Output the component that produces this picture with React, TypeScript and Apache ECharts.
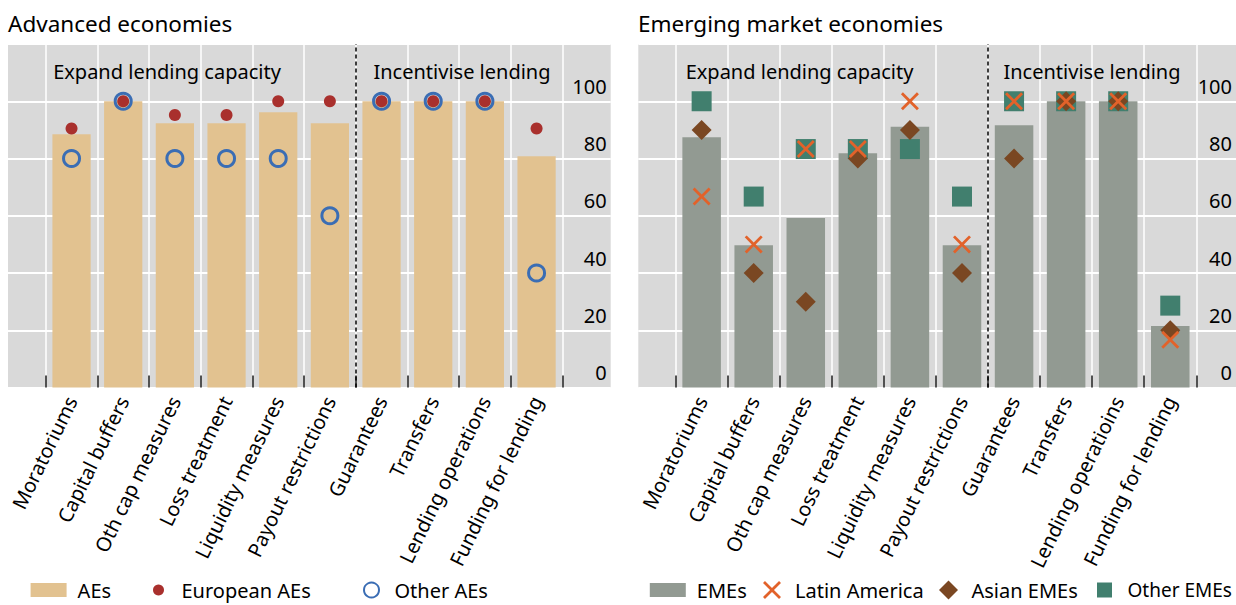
import React, { useEffect, useRef } from 'react';
import * as echarts from 'echarts';

const FONT = '"Noto Sans", "Open Sans", sans-serif';

const categoriesAE = ['Moratoriums', 'Capital buffers', 'Oth cap measures', 'Loss treatment', 'Liquidity measures', 'Payout restrictions', 'Guarantees', 'Transfers', 'Lending operations', 'Funding for lending'];
const categoriesEME = ['Moratoriums', 'Capital buffers', 'Oth cap measures', 'Loss treatment', 'Liquidity measures', 'Payout restrictions', 'Guarantees', 'Transfers', 'Lending operatioins', 'Funding for lending'];

const aes = [88.5, 100, 92.3, 92.3, 96.2, 92.3, 100, 100, 100, 80.8];
const europeanAEs = [90.5, 100, 95.2, 95.2, 100, 100, 100, 100, 100, 90.5];
const otherAEs = [80, 100, 80, 80, 80, 60, 100, 100, 100, 40];

const emes = [87.4, 49.7, 59.2, 81.8, 91.1, 49.7, 91.6, 100, 100, 21.5];
const latinAmerica = [66.7, 50, 83.3, 83.3, 100, 50, 100, 100, 100, 16.7];
const asianEMEs = [90, 40, 30, 80, 90, 40, 80, 100, 100, 20];
const otherEMEs = [100, 66.7, 83.3, 83.3, 83.3, 66.7, 100, 100, 100, 28.6];

const yMin = 0;
const yMax = 120;
const yStep = 20;
const dividerAt = 6; // boundary between "Payout restrictions" and "Guarantees"

const sectionLabels = ['Expand lending capacity', 'Incentivise lending'];
const panelTitles = ['Advanced economies', 'Emerging market economies'];

const X_PATH = 'path://M0,1.1L1.1,0L5,3.9L8.9,0L10,1.1L6.1,5L10,8.9L8.9,10L5,6.1L1.1,10L0,8.9L3.9,5Z';
const DIAMOND_PATH = 'path://M5,0L10,5L5,10L0,5Z';
const SQUARE_PATH = 'path://M0,0L10,0L10,10L0,10Z';
// legend swatch: 36x14 rectangle plus an invisible point that widens the icon box
const SWATCH_PATH = 'path://M0,0L36,0L36,14L0,14Z M42,7L42,7';

const TOP = 44;
const HEIGHT = 343.5;

function buildOption() {
  const panels = [
    { bgLeft: 8, bgWidth: 602.7, dataLeft: 45.7, dataWidth: 516.7, cats: categoriesAE },
    { bgLeft: 638.3, bgWidth: 601.7, dataLeft: 675.6, dataWidth: 520.7, cats: categoriesEME },
  ];
  const grid: any[] = [];
  const xAxis: any[] = [];
  const yAxis: any[] = [];
  panels.forEach((p) => {
    grid.push({ left: p.bgLeft, top: TOP, width: p.bgWidth, height: HEIGHT, show: true, backgroundColor: '#D9D9D9', borderWidth: 0 });
    grid.push({ left: p.dataLeft, top: TOP, width: p.dataWidth, height: HEIGHT, show: false });
  });
  panels.forEach((p, i) => {
    const bg = i * 2;
    const dg = i * 2 + 1;
    xAxis.push({ gridIndex: bg, type: 'value', min: 0, max: 1, show: false });
    xAxis.push({
      gridIndex: dg, type: 'category', data: p.cats, boundaryGap: true,
      axisLine: { show: false },
      axisTick: { show: true, inside: true, length: 12, interval: 0, lineStyle: { color: '#1a1a1a', width: 1.5 } },
      splitLine: { show: true, interval: 0, lineStyle: { color: '#ffffff', width: 1.5 } },
      axisLabel: { interval: 0, rotate: 64, margin: 10, fontSize: 20, color: '#000', fontFamily: FONT },
    });
    xAxis.push({ gridIndex: dg, type: 'value', min: 0, max: p.cats.length, show: false });
    yAxis.push({
      gridIndex: bg, type: 'value', min: yMin, max: yMax, interval: yStep, position: 'right',
      axisLine: { show: false }, axisTick: { show: false },
      splitLine: { show: true, lineStyle: { color: '#ffffff', width: 2 } },
      axisLabel: {
        inside: true, margin: 4, verticalAlign: 'bottom', lineHeight: 30, fontSize: 20, color: '#000', fontFamily: FONT,
        formatter: (v: number) => (v >= yMax ? '' : String(v)),
      },
    });
    yAxis.push({ gridIndex: dg, type: 'value', min: yMin, max: yMax, interval: yStep, show: false });
  });

  const divider = (xi: number, yi: number) => ({
    type: 'line', xAxisIndex: xi, yAxisIndex: yi, data: [], silent: true,
    markLine: {
      silent: true, symbol: ['none', 'none'], label: { show: false },
      lineStyle: { type: [4, 3], color: '#000', width: 1.5 },
      data: [{ xAxis: dividerAt }],
    },
  });

  const series: any[] = [
    { name: 'AEs', type: 'bar', xAxisIndex: 1, yAxisIndex: 1, data: aes, barCategoryGap: '26%', itemStyle: { color: '#E2C290' } },
    { name: 'European AEs', type: 'scatter', xAxisIndex: 1, yAxisIndex: 1, data: europeanAEs, symbol: 'circle', symbolSize: 12, itemStyle: { color: '#A9302D', opacity: 1 } },
    { name: 'Other AEs', type: 'scatter', xAxisIndex: 1, yAxisIndex: 1, data: otherAEs, symbol: 'circle', symbolSize: 16, itemStyle: { color: 'rgba(0,0,0,0)', borderColor: '#3A6DB4', borderWidth: 3, opacity: 1 } },
    divider(2, 1),
    { name: 'EMEs', type: 'bar', xAxisIndex: 4, yAxisIndex: 3, data: emes, barCategoryGap: '26%', itemStyle: { color: '#929A92' } },
    { name: 'Other EMEs', type: 'scatter', xAxisIndex: 4, yAxisIndex: 3, data: otherEMEs, symbol: 'rect', symbolSize: 20, itemStyle: { color: '#417F6E', opacity: 1 } },
    { name: 'Asian EMEs', type: 'scatter', xAxisIndex: 4, yAxisIndex: 3, data: asianEMEs, symbol: 'diamond', symbolSize: 20, itemStyle: { color: '#7A4722', opacity: 1 } },
    { name: 'Latin America', type: 'scatter', xAxisIndex: 4, yAxisIndex: 3, data: latinAmerica, symbol: X_PATH, symbolSize: 18, itemStyle: { color: '#E2622A', opacity: 1 } },
    divider(5, 3),
  ];

  const mkLegend = (name: string, left: number, w: number, h: number, icon?: string, fontSize = 20) => ({
    data: [icon ? { name, icon } : name], left, top: 580, itemWidth: w, itemHeight: h, padding: 0, itemGap: 0,
    selectedMode: false, textStyle: { fontSize, lineHeight: 20, color: '#000', fontFamily: FONT },
  });
  const legend = [
    mkLegend('AEs', 30.6, 42, 14, SWATCH_PATH),
    mkLegend('European AEs', 153, 36, 11),
    mkLegend('Other AEs', 363, 36, 15),
    mkLegend('EMEs', 649.8, 42, 14, SWATCH_PATH),
    mkLegend('Latin America', 763, 36, 18, X_PATH),
    mkLegend('Asian EMEs', 939, 36, 19, DIAMOND_PATH),
    mkLegend('Other EMEs', 1097, 36, 15, SQUARE_PATH, 19),
  ];

  const txt = (text: string, x: number, y: number, size: number, align = 'center') => ({
    type: 'text', x, y, z: 100, silent: true,
    style: { text, fontSize: size, fontFamily: FONT, fill: '#000', align, verticalAlign: 'middle' },
  });
  const graphic = [
    txt(sectionLabels[0], 167, 71, 20),
    txt(sectionLabels[1], 462, 71, 20),
    txt(sectionLabels[0], 799.5, 71, 20),
    txt(sectionLabels[1], 1092, 71, 20),
    txt(panelTitles[0], 8, 23, 22.5, 'left'),
    txt(panelTitles[1], 638, 23, 22.5, 'left'),
  ];

  return { animation: false, grid, xAxis, yAxis, series, legend, graphic };
}

export default function App() {
  const ref = useRef<HTMLDivElement>(null);
  useEffect(() => {
    const chart = echarts.init(ref.current!, null, { renderer: 'svg' });
    chart.setOption(buildOption() as any);
    return () => chart.dispose();
  }, []);
  return <div ref={ref} style={{ position: 'absolute', left: 0, top: 0, width: 1236, height: 605, background: '#fff' }} />;
}
